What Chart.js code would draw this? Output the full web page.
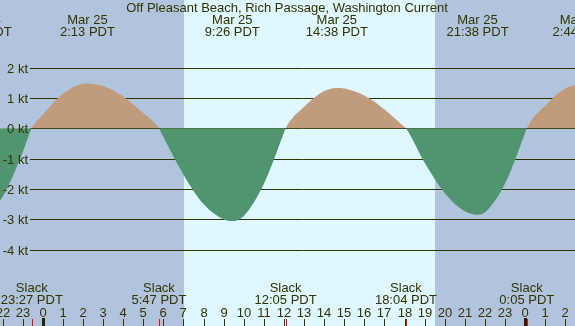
<!DOCTYPE html>
<html>
<head>
<meta charset="utf-8">
<script src="https://cdn.jsdelivr.net/npm/chart.js@4/dist/chart.umd.min.js"></script>
<style>
  html, body { margin: 0; padding: 0; background: #b0c4de; }
  #wrap { width: 575px; height: 326px; position: relative; }
</style>
</head>
<body>
<div id="wrap"><canvas id="currentChart"></canvas></div>
<script>
const TITLE = 'Off Pleasant Beach, Rich Passage, Washington Current';

// hours relative to Mar 25 00:00 PDT, speed in knots (+ flood, - ebb)
const times  = [-3.1, -3, -2, -1, -0.55, 0, 1, 2, 2.22, 3, 4, 5, 5.78, 6, 7, 8, 9, 9.43, 10, 11, 12, 12.08,
                13, 14, 14.63, 15, 16, 17, 18, 18.07, 19, 20, 21, 21.63, 22, 23, 24, 24.08, 25, 26, 26.73, 27];
const speeds = [-2.9, -2.89, -2.26, -0.79, 0, 0.45, 1.14, 1.47, 1.48, 1.39, 1.05, 0.5, 0, -0.29, -1.53, -2.5, -3.01, -3.06, -2.89, -1.83, -0.14, 0,
                0.71, 1.23, 1.33, 1.31, 1.08, 0.62, 0.04, 0, -1.14, -2.14, -2.74, -2.85, -2.77, -1.82, -0.15, 0, 0.75, 1.31, 1.44, 1.42];

const maxTimes = [-3.1, 2.22, 9.43, 14.63, 21.63, 26.73];
const maxDates = ['Mar 24', 'Mar 25', 'Mar 25', 'Mar 25', 'Mar 25', 'Mar 26'];
const maxClock = ['20:54 PDT', '2:13 PDT', '9:26 PDT', '14:38 PDT', '21:38 PDT', '2:44 PDT'];

const slackTimes = [-0.55, 5.78, 12.08, 18.07, 24.08];
const slackClock = ['23:27 PDT', '5:47 PDT', '12:05 PDT', '18:04 PDT', '0:05 PDT'];

const sunTimes = [7.02, 19.51]; // sunrise, sunset
const yTicks = [2, 1, 0, -1, -2, -3, -4];
const hourTicks = [];
for (let h = -2; h <= 26; h++) hourTicks.push(h);

const X_MIN = -2.13, X_MAX = 26.48, Y_MIN = -6.52, Y_MAX = 4.23;
const INK = '#333300', NIGHT = '#b0c4de', DAY = '#dff7ff', FLOOD = '#c09c7c', EBB = '#509470';
const FONT = '13px "Liberation Sans", Arial, sans-serif';

const tidePlugin = {
  id: 'tideDecor',
  beforeDraw(chart) {
    const { ctx, chartArea: a, scales: { x } } = chart;
    ctx.save();
    ctx.fillStyle = NIGHT;
    ctx.fillRect(a.left, a.top, a.right - a.left, a.bottom - a.top);
    const x0 = Math.round(x.getPixelForValue(sunTimes[0]));
    const x1 = Math.round(x.getPixelForValue(sunTimes[1]));
    ctx.fillStyle = DAY;
    ctx.fillRect(x0, a.top, x1 - x0, a.bottom - a.top);
    ctx.restore();
  },
  beforeDatasetsDraw(chart) {
    const { ctx, chartArea: a, scales: { y } } = chart;
    ctx.save();
    ctx.strokeStyle = INK;
    ctx.lineWidth = 1;
    yTicks.forEach(v => {
      const py = Math.round(y.getPixelForValue(v)) + 0.5;
      ctx.beginPath();
      ctx.moveTo(30, py);
      ctx.lineTo(a.right, py);
      ctx.stroke();
    });
    ctx.restore();
  },
  afterDatasetsDraw(chart) {
    const { ctx, chartArea: a, scales: { x, y } } = chart;
    ctx.save();
    ctx.font = FONT;
    ctx.fillStyle = INK;
    ctx.textBaseline = 'alphabetic';

    ctx.textAlign = 'right';
    yTicks.forEach(v => ctx.fillText(`${v} kt`, 28, Math.round(y.getPixelForValue(v)) + 5));

    ctx.textAlign = 'center';
    ctx.fillText(TITLE, 287, 12);
    maxTimes.forEach((t, i) => {
      const px = x.getPixelForValue(t);
      ctx.fillText(maxDates[i], px, 24);
      ctx.fillText(maxClock[i], px, 36);
    });
    slackTimes.forEach((t, i) => {
      const px = x.getPixelForValue(t);
      ctx.fillText('Slack', px, 292);
      ctx.fillText(slackClock[i], px, 304);
    });

    hourTicks.forEach(h => {
      const px = Math.round(x.getPixelForValue(h));
      const label = ((h % 24) + 24) % 24;
      ctx.fillStyle = INK;
      ctx.fillText(String(label), px, 317);
      if (label === 0) {
        ctx.fillStyle = '#222200';
        ctx.fillRect(px - 1, 318, 3, a.bottom - 318);
      } else {
        ctx.fillRect(px, 319, 1, a.bottom - 319);
      }
    });
    ctx.fillStyle = '#ff0000';
    slackTimes.forEach(t => {
      const px = Math.round(x.getPixelForValue(t));
      ctx.fillRect(px, 319, 1, a.bottom - 319);
    });
    ctx.restore();
  }
};

new Chart(document.getElementById('currentChart').getContext('2d'), {
  type: 'line',
  data: {
    datasets: [{
      label: 'Current',
      data: times.map((t, i) => ({ x: t, y: speeds[i] })),
      borderWidth: 0,
      borderColor: 'rgba(0,0,0,0)',
      pointRadius: 0,
      cubicInterpolationMode: 'monotone',
      fill: { target: 'origin', above: FLOOD, below: EBB }
    }]
  },
  options: {
    responsive: true, maintainAspectRatio: false,
    animation: false,
    layout: { padding: 0 },
    plugins: { legend: { display: false }, tooltip: { enabled: false }, title: { display: false } },
    scales: {
      x: { type: 'linear', min: X_MIN, max: X_MAX, display: false },
      y: { min: Y_MIN, max: Y_MAX, display: false }
    }
  },
  plugins: [tidePlugin]
});
</script>
</body>
</html>
